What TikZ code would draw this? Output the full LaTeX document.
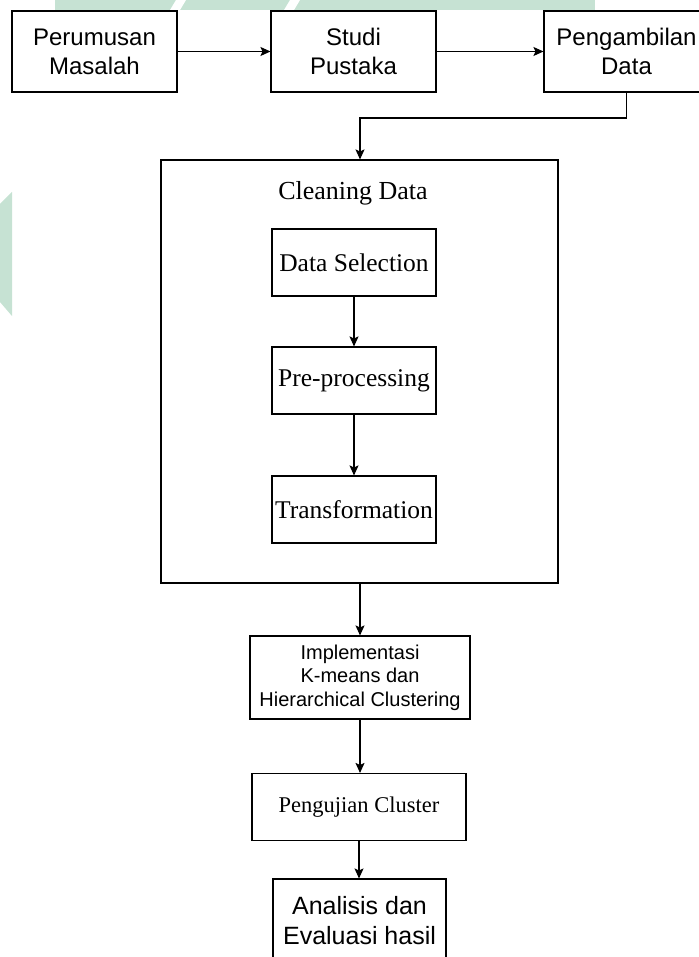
\documentclass[tikz,border=0pt]{standalone}
\usepackage{fontspec}
\setmainfont{Liberation Serif}
\setsansfont{Liberation Sans}
\usetikzlibrary{calc, positioning}
\usetikzlibrary{arrows.meta}
\definecolor{wmgreen}{RGB}{198,226,211}
\tikzset{
  % Set arrowhead
  >={Stealth[length=10pt, width=9pt, inset=2pt]},
  % General step box
  stepbox/.style={draw, fill=white, shape=rectangle, inner sep=0pt,
    align=center, line width=1.1pt},
  % Sans text box
  sbox/.style={stepbox, font=\sffamily\fontsize{24}{29}\selectfont,
    minimum width=165pt, minimum height=81pt},
  % Serif text box inside the cleaning block
  cbox/.style={stepbox, font=\rmfamily\fontsize{25.5}{30}\selectfont,
    minimum width=164pt, minimum height=67pt},
  % Links
  link/.style={->, line width=1.1pt},
}

\begin{document}
\begin{tikzpicture}[x=1pt, y=-1pt]

    \useasboundingbox (0,0) rectangle (698,957);

    % faded watermark
    \fill[wmgreen] (55,0) -- (595,0) -- (595,10) -- (55,10) -- cycle;
    \fill[white] (170,10) -- (180,10) -- (186,0) -- (176,0) -- cycle;
    \fill[white] (284,10) -- (294,10) -- (300,0) -- (290,0) -- cycle;
    \fill[wmgreen] (0,204) -- (12,192) -- (12,316) -- (0,302) -- cycle;

    % top row
    \node[sbox] (rumus) at (94.5,51.5) {Perumusan\\Masalah};
    \node[sbox] (studi) at (353.5,51.5) {Studi\\Pustaka};
    \node[sbox] (ambil) at (626.5,51.5) {Pengambilan\\Data};

    \draw[link] (rumus) -- (studi);
    \draw[link] (studi) -- (ambil);

    % cleaning block
    \node[stepbox, minimum width=397pt, minimum height=423pt]
      (clean) at (359.5,371.5) {};
    \node[font=\rmfamily\fontsize{26}{30}\selectfont] (ctitle) at (353,193)
      {Cleaning Data};

    \node[cbox] (sel) at (354,262.5) {Data Selection};
    \node[cbox] (prep) at (354,380.5) {Pre-processing};
    \node[cbox] (trans) at (354,509.5) {Transformation};

    \draw[link] (sel) -- (prep);
    \draw[link] (prep) -- (trans);

    \coordinate (bend) at (360,118);
    \draw[link] (ambil.south) |- (bend) -- (bend |- clean.north);

    % lower steps
    \node[stepbox, font=\sffamily\fontsize{20}{23.5}\selectfont,
      minimum width=220pt, minimum height=83pt]
      (impl) at (360,677.5) {Implementasi\\K-means dan\\Hierarchical Clustering};
    \node[stepbox, font=\rmfamily\fontsize{22.5}{27}\selectfont,
      minimum width=214pt, minimum height=67pt]
      (uji) at (359,807) {Pengujian Cluster};
    \node[stepbox, font=\sffamily\fontsize{25}{30}\selectfont,
      minimum width=173pt, minimum height=84pt]
      (hasil) at (359.5,921) {Analisis dan\\Evaluasi hasil};

    \draw[link] (clean.south -| impl.north) -- (impl.north);
    \draw[link] (impl.south) -- (impl.south |- uji.north);
    \draw[link] (uji.south) -- (uji.south |- hasil.north);
  \end{tikzpicture}
\end{document}
